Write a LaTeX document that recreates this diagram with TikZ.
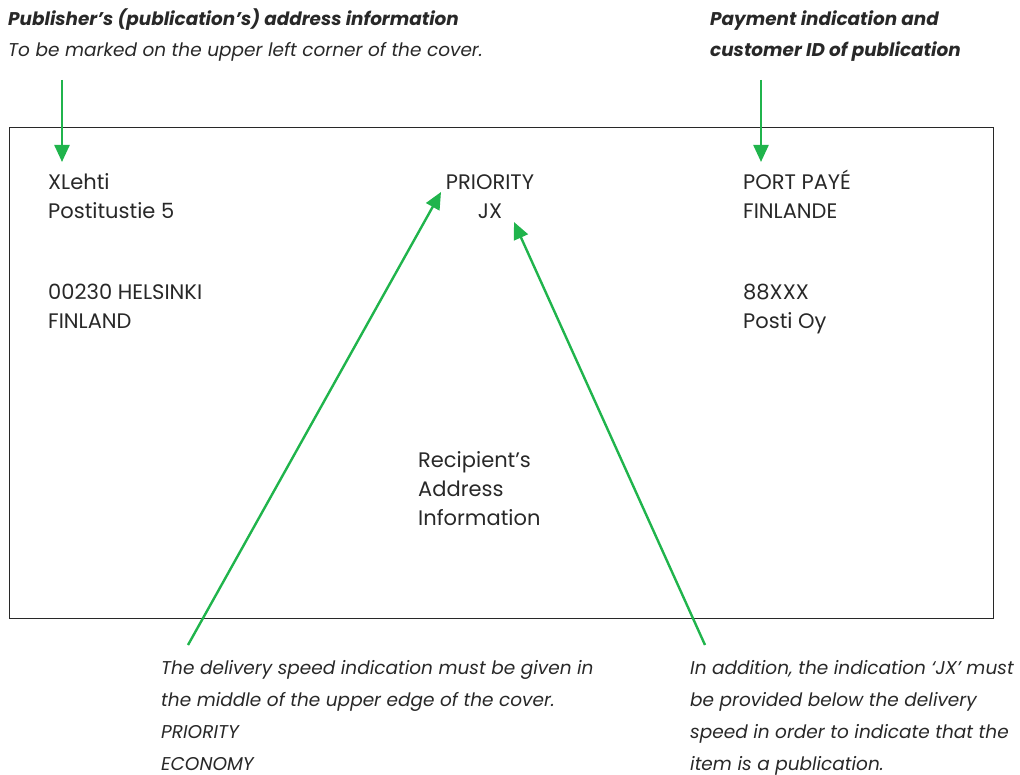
\documentclass[tikz,border=0pt]{standalone}
\usepackage{fontspec}
\setmainfont{Poppins}
\usetikzlibrary{arrows.meta}
\definecolor{postgreen}{RGB}{32,180,76}
\definecolor{inkgray}{RGB}{40,40,40}

\begin{document}
\begin{tikzpicture}[x=1pt, y=-1pt,
    ptr/.style={draw=postgreen, line width=2.4pt, -{Triangle[length=17pt, width=15pt]}},
    addr/.style={anchor=base west, inner sep=0pt, align=left, text=inkgray,
      font=\fontsize{21}{29}\selectfont},
    head/.style={anchor=base west, inner sep=0pt, align=left, text=inkgray,
      font=\fontsize{18.4}{31}\selectfont\bfseries\itshape},
    note/.style={anchor=base west, inner sep=0pt, align=left, text=inkgray,
      font=\fontsize{18.5}{31.7}\selectfont\itshape}]
		\useasboundingbox (0,0) rectangle (1020,775);

		% envelope
		\draw[inkgray, line width=0.9pt] (9,127) rectangle (993,618);

		% headings (anchored at the baseline of the last line)
		\node[head] (pubhead) at (8,26) {Publisher’s (publication’s) address information};
		\node[note] (pubnote) at (8,57) {To be marked on the upper left corner of the cover.};
		\node[head] (payhead) at (710,57) {Payment indication and\\customer ID of publication};

		% text on the cover
		\node[addr] (sender) at (48,219) {XLehti\\Postitustie 5};
		\node[addr] (city) at (48,329) {00230 HELSINKI\\FINLAND};
		\node[addr, align=center, anchor=base] (speed) at (490,219) {PRIORITY\\JX};
		\node[addr] (port) at (743,219) {PORT PAYÉ\\FINLANDE};
		\node[addr] (custid) at (743,329) {88XXX\\Posti Oy};
		\node[addr] (recip) at (418,525) {Recipient’s\\Address\\Information};

		% notes below
		\node[note] (speednote) at (161,770) {The delivery speed indication must be given in\\the middle of the upper edge of the cover.\\PRIORITY\\ECONOMY};
		\node[note] (jxnote) at (690,770) {In addition, the indication ‘JX’ must\\be provided below the delivery\\speed in order to indicate that the\\item is a publication.};

		% arrows
		\coordinate (pubtail) at (62,80);
		\coordinate (pubtip) at (62,162);
		\coordinate (paytail) at (761,80);
		\coordinate (paytip) at (761,162);
		\coordinate (speedtail) at (188,645);
		\coordinate (speedtip) at (441,192);
		\coordinate (jxtail) at (705,645);
		\coordinate (jxtip) at (514,222);
		\draw[ptr] (pubtail) -- (pubtip);
		\draw[ptr] (paytail) -- (paytip);
		\draw[ptr] (speedtail) -- (speedtip);
		\draw[ptr] (jxtail) -- (jxtip);
\end{tikzpicture}
\end{document}
